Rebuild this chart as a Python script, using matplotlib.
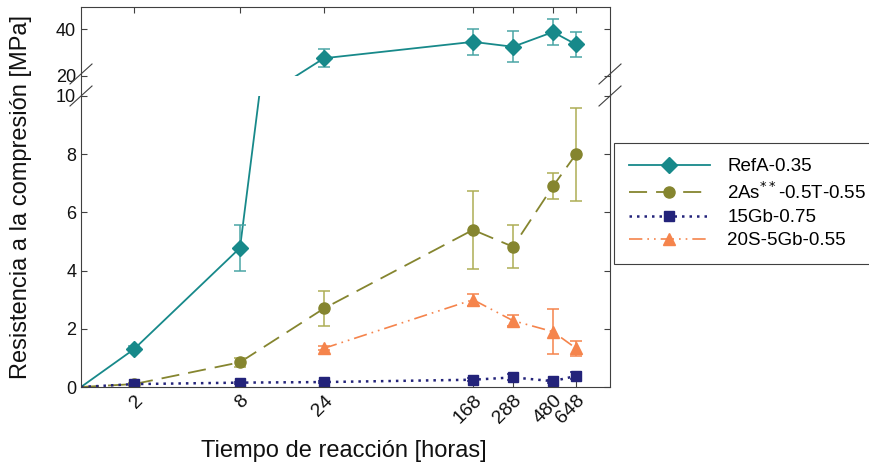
import numpy as np
import matplotlib
matplotlib.use('Agg')
from matplotlib import pyplot as plt
from matplotlib.lines import Line2D

plt.rcParams['font.family'] = ['Liberation Sans', 'DejaVu Sans']

# data
horas = [0, 2, 8, 24, 168, 288, 480, 648]
ref_t = [0, 2, 8, 24, 168, 288, 480, 648]
ref_v = [0, 1.3, 4.78, 27.6, 34.6, 32.5, 38.8, 33.5]
ref_e = [0, 0.1, 0.8, 3.8, 5.7, 6.6, 5.4, 5.3]
as_t = [0, 2, 8, 24, 168, 288, 480, 648]
as_v = [0, 0.1, 0.85, 2.7, 5.4, 4.82, 6.9, 8.0]
as_e = [0, 0.03, 0.15, 0.6, 1.35, 0.73, 0.45, 1.6]
gb_t = [0, 2, 8, 24, 168, 288, 480, 648]
gb_v = [0, 0.1, 0.15, 0.17, 0.25, 0.33, 0.2, 0.38]
gb_e = [0, 0.02, 0.03, 0.03, 0.05, 0.1, 0.05, 0.12]
s_t = [24, 168, 288, 480, 648]
s_v = [1.33, 3.0, 2.28, 1.9, 1.33]
s_e = [0.07, 0.2, 0.18, 0.77, 0.25]
labels = ['RefA-0.35', '2As$^{**}$-0.5T-0.55', '15Gb-0.75', '20S-5Gb-0.55']

# x axis is not linear: piecewise mapping of the time axis
knot_t = [0, 2, 8, 24, 168, 288, 480, 648, 800]
knot_p = [0, 53, 159, 243, 392, 432, 472, 495, 529]
fwd = lambda t: np.interp(t, knot_t, knot_p)
inv = lambda p: np.interp(p, knot_p, knot_t)

c_ref, c_as, c_gb, c_s = '#17898a', '#85852f', '#23237a', '#f5844c'
spine_c = '#404040'

fig = plt.figure(figsize=(8.69, 4.68), dpi=100)
W, H = 869, 468
L, R = 81, 610
ax_top = fig.add_axes([L / W, 1 - 76 / H, (R - L) / W, (76 - 7) / H])
ax = fig.add_axes([L / W, 1 - 387 / H, (R - L) / W, (387 - 96) / H])

for a in (ax_top, ax):
    a.set_xscale('function', functions=(fwd, inv))
    a.set_xlim(0, 800)
    a.set_xticks(horas[1:])
    for s in a.spines.values():
        s.set_color(spine_c)
    a.tick_params(direction='in', length=4, color=spine_c, labelsize=13,
                  right=True, labelcolor='#111111')

ax_top.spines['bottom'].set_visible(False)
ax.spines['top'].set_visible(False)
ax_top.tick_params(bottom=False, top=True, labelbottom=False)
ax.tick_params(top=False)
ax_top.set_ylim(20, 49.5)
ax_top.set_yticks([20, 40])
ax.set_ylim(0, 10)
ax.set_yticks([0, 2, 4, 6, 8, 10])
ax.set_xticks(horas[1:], [str(h) for h in horas[1:]], rotation=45,
              ha='right', rotation_mode='anchor', fontsize=14)

eb = dict(capsize=4.5, elinewidth=1.1, capthick=1.1, ls='none')

def serie(a, t, v, e, color, ecolor, mk, ms, lw, ls):
    # line from the origin, markers and error bars only on measured points
    a.plot(t, v, color=color, lw=lw, ls=ls)
    i0 = 1 if t[0] == 0 else 0
    a.errorbar(t[i0:], v[i0:], yerr=e[i0:], color=color, ecolor=ecolor,
               marker=mk, ms=ms, **eb)

for a in (ax_top, ax):
    serie(a, ref_t, ref_v, ref_e, c_ref, '#4aa5a5', 'D', 8, 1.3, '-')
serie(ax, as_t, as_v, as_e, c_as, '#adad55', 'o', 8, 1.3, (0, (10, 5)))
serie(ax, gb_t, gb_v, gb_e, c_gb, c_gb, 's', 7, 1.8, (0, (1, 2)))
serie(ax, s_t, s_v, s_e, c_s, c_s, '^', 8, 1.2, (0, (8, 3, 1, 3, 1, 3)))

# spine pieces in the gap and break marks
def fy(y):
    return 1 - y / H

for x in (L, R):
    fig.add_artist(Line2D([x / W, x / W], [fy(76), fy(96)], color=spine_c, lw=0.8))
    for y0 in (74, 96):
        fig.add_artist(Line2D([(x - 11) / W, (x + 11) / W], [fy(y0 + 10), fy(y0 - 10)],
                              color=spine_c, lw=0.8))

handles = [
    Line2D([], [], color=c_ref, marker='D', ms=8, lw=1.3),
    Line2D([], [], color=c_as, marker='o', ms=8, lw=1.3, ls=(0, (10, 5))),
    Line2D([], [], color=c_gb, marker='s', ms=7, lw=1.8, ls=(0, (1, 2))),
    Line2D([], [], color=c_s, marker='^', ms=8, lw=1.2, ls=(0, (8, 3, 1, 3, 1, 3))),
]
leg = fig.legend(handles, labels, loc='upper left', bbox_to_anchor=(614 / W, fy(143)),
                 fontsize=13.5, handlelength=4.3, labelspacing=0.33, fancybox=False,
                 borderpad=0.8, borderaxespad=0, handletextpad=0.95, framealpha=1)
leg.get_frame().set_edgecolor(spine_c)
leg.get_frame().set_linewidth(0.8)

fig.text(21 / W, fy(197), 'Resistencia a la compresión [MPa]', rotation=90,
         ha='center', va='center', fontsize=17, color='#111111')
fig.text(344 / W, fy(451), 'Tiempo de reacción [horas]', ha='center', va='center',
         fontsize=17, color='#111111')

fig.savefig('out.png', dpi=100)
